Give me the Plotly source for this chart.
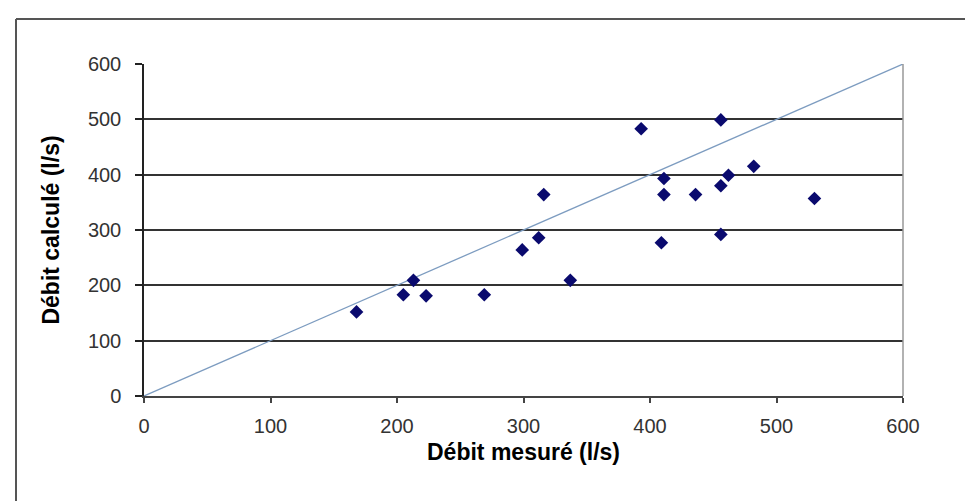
"""Débit calculé vs débit mesuré"""

import plotly.graph_objects as go

# measured / computed discharge (l/s)
debit_mesure = [168, 205, 213, 223, 269, 299, 312, 316, 337, 393,
                411, 411, 409, 436, 456, 482, 462, 456, 456, 530]
debit_calcule = [152, 183, 209, 181, 183, 264, 286, 364, 209, 483,
                 393, 364, 277, 364, 499, 415, 399, 380, 292, 357]

# y = x reference line
ligne_x = [0, 600]
ligne_y = [0, 600]

ticks = [0, 100, 200, 300, 400, 500, 600]

fig = go.Figure()
fig.add_trace(go.Scatter(x=ligne_x, y=ligne_y, mode='lines',
                         line=dict(color='#7d9cc0', width=1.3),
                         hoverinfo='skip', showlegend=False))
fig.add_trace(go.Scatter(x=debit_mesure, y=debit_calcule, mode='markers',
                         marker=dict(symbol='diamond', size=10.5, color='#0a0a6e'),
                         showlegend=False))

# outer chart frame (only left and top edges visible)
x_left = (8 - 136) / 759
y_top = (388 - 11) / 332
fig.add_shape(type='line', xref='paper', yref='paper', x0=x_left, x1=x_left,
              y0=y_top, y1=-0.5, line=dict(color='#555555', width=2))
fig.add_shape(type='line', xref='paper', yref='paper', x0=x_left, x1=1.3,
              y0=y_top, y1=y_top, line=dict(color='#555555', width=2))
# plot area right edge
fig.add_shape(type='line', xref='paper', yref='paper', x0=1, x1=1,
              y0=0, y1=1, line=dict(color='#999999', width=1.5))

fig.update_layout(
    width=973, height=501,
    margin=dict(l=136, r=78, t=56, b=113),
    paper_bgcolor='white',
    plot_bgcolor='white',
    font=dict(family='Liberation Sans, Arial', color='#333333', size=20),
    showlegend=False,
    xaxis=dict(
        range=[0, 600], tickvals=ticks, showgrid=False, zeroline=False,
        showline=True, linecolor='#444444', linewidth=2,
        ticks='outside', ticklen=5, tickcolor='#444444', tickwidth=1.5,
        ticklabelstandoff=6,
        title=dict(text='Débit mesuré (l/s)', standoff=8,
                   font=dict(size=23, color='black', weight='bold'))),
    yaxis=dict(
        range=[0, 600], tickvals=ticks, showgrid=True, gridcolor='#333333',
        gridwidth=1.5, zeroline=False,
        showline=True, linecolor='#222222', linewidth=1.5,
        ticks='outside', ticklen=7, tickcolor='#222222', tickwidth=1.5,
        ticklabelstandoff=10,
        title=dict(text='Débit calculé (l/s)', standoff=22,
                   font=dict(size=23, color='black', weight='bold'))),
)

fig.write_html("out.html")
